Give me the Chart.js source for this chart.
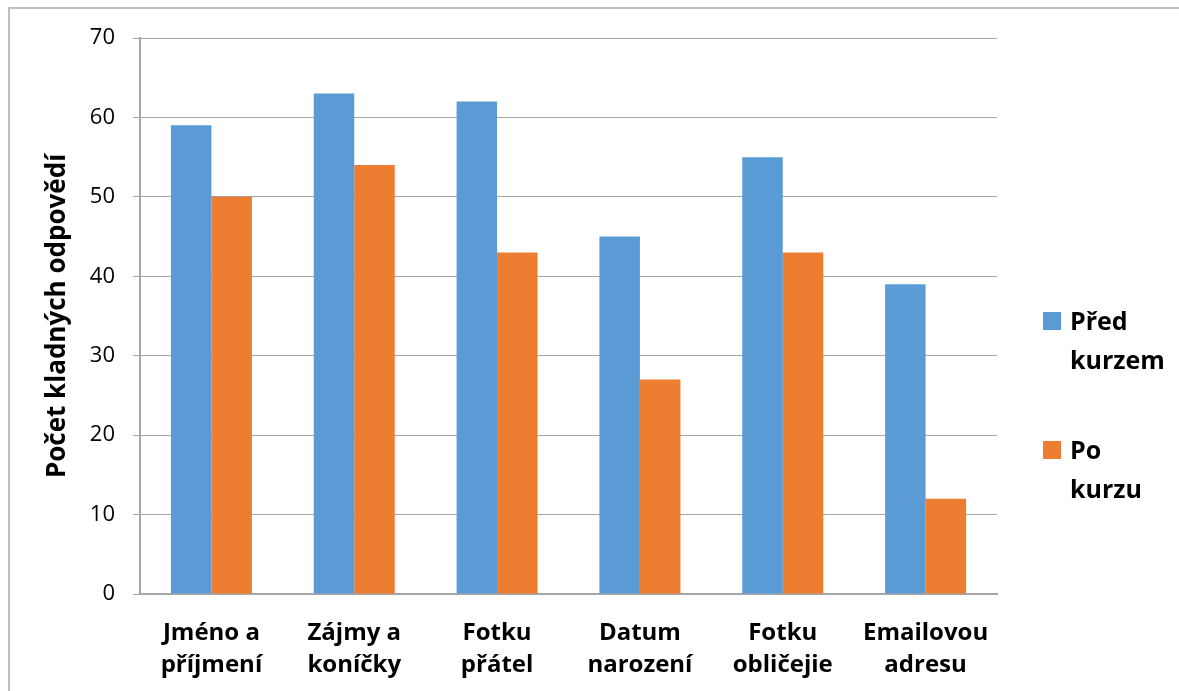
<!DOCTYPE html>
<html>
<head>
<meta charset="utf-8">
<script src="https://cdn.jsdelivr.net/npm/chart.js@4/dist/chart.umd.min.js"></script>
<style>
  html, body { margin: 0; padding: 0; background: #fff; }
  #wrap { position: relative; width: 1179px; height: 691px; overflow: hidden; }
  #frame { position: absolute; left: 8px; top: 7px; width: 1200px; height: 720px;
           border: 2px solid #bfbfbf; box-sizing: border-box; pointer-events: none; }
  canvas { position: absolute; left: 0; top: 0; }
</style>
</head>
<body>
<div id="wrap">
  <canvas id="chartKurz" width="1179" height="691"></canvas>
  <div id="frame"></div>
</div>
<script>
// data
const categories = [
  ['Jméno a', 'příjmení'],
  ['Zájmy a', 'koníčky'],
  ['Fotku', 'přátel'],
  ['Datum', 'narození'],
  ['Fotku', 'obličejie'],
  ['Emailovou', 'adresu']
];
const predKurzem = [59, 63, 62, 45, 55, 39];
const poKurzu = [50, 54, 43, 27, 43, 12];
const seriesNames = [['Před', 'kurzem'], ['Po', 'kurzu']];
const seriesColors = ['#5b9bd5', '#ed7d31'];

const fontFamily = '"Open Sans", Lato, sans-serif';

// legend at the right, wrapped labels like the original
const sideLegend = {
  id: 'sideLegend',
  afterDraw(chart) {
    const ctx = chart.ctx;
    const tops = [312, 441];
    ctx.save();
    ctx.font = 'bold 25px ' + fontFamily;
    ctx.textBaseline = 'alphabetic';
    ctx.textAlign = 'left';
    chart.data.datasets.forEach((ds, i) => {
      const y = tops[i];
      ctx.fillStyle = ds.backgroundColor;
      ctx.fillRect(1043, y, 18, 18);
      ctx.fillStyle = '#000';
      seriesNames[i].forEach((line, j) => {
        ctx.fillText(line, 1070, y + 18 + j * 39);
      });
    });
    ctx.restore();
  }
};

const chartKurz = new Chart(
  document.getElementById('chartKurz'),
  {
    type: 'bar',
    data: {
      labels: categories,
      datasets: [
        { label: 'Před kurzem', data: predKurzem, backgroundColor: seriesColors[0] },
        { label: 'Po kurzu', data: poKurzu, backgroundColor: seriesColors[1] }
      ]
    },
    plugins: [sideLegend],
    options: {
      responsive: false,
      animation: false,
      categoryPercentage: 0.567,
      barPercentage: 1,
      layout: {
        padding: { top: 38, right: 182, bottom: 0, left: 0 }
      },
      plugins: {
        legend: { display: false },
        tooltip: { enabled: false }
      },
      scales: {
        x: {
          afterFit: (scale) => { scale.height = 691 - 594; },
          grid: { display: false, drawTicks: false },
          border: { display: true, color: '#a6a6a6', width: 2 },
          ticks: {
            color: '#000',
            padding: 23,
            maxRotation: 0,
            autoSkip: false,
            font: { family: fontFamily, size: 24, weight: 'bold', lineHeight: 1.33 }
          }
        },
        y: {
          min: 0,
          max: 70,
          afterFit: (scale) => { scale.width = 140; },
          grid: { color: '#a6a6a6', lineWidth: 1, tickLength: 7 },
          border: { display: true, color: '#a6a6a6', width: 2 },
          ticks: {
            stepSize: 10,
            color: '#000',
            padding: 18,
            font: { family: fontFamily, size: 22 }
          },
          title: {
            display: true,
            text: 'Počet kladných odpovědí',
            color: '#000',
            padding: { top: 42, bottom: 0 },
            font: { family: fontFamily, size: 26, weight: 'bold' }
          }
        }
      }
    }
  }
);
</script>
</body>
</html>
